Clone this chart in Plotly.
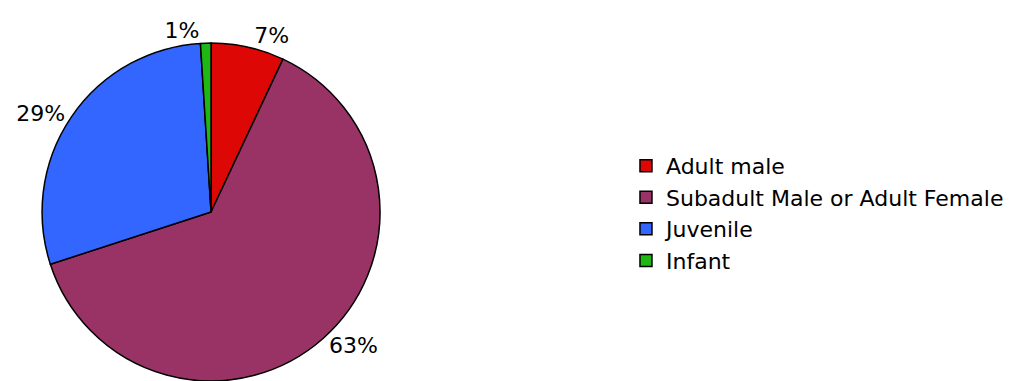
import plotly.graph_objects as go

# Age/sex classes and their share of the group (percent)
categories = ["Adult male", "Subadult Male or Adult Female", "Juvenile", "Infant"]
shares = [7, 63, 29, 1]
colors = ["#DD0806", "#993366", "#3366FF", "#1FB714"]

FONT = "DejaVu Sans, Verdana, sans-serif"

fig = go.Figure(
    go.Pie(
        labels=categories,
        values=shares,
        sort=False,
        direction="clockwise",
        rotation=0,
        marker=dict(colors=colors, line=dict(color="black", width=1.5)),
        textinfo="percent",
        texttemplate="%{percent:.0%}",
        textposition="outside",
        textfont=dict(family=FONT, size=22, color="black"),
        domain=dict(x=[0.041, 0.372], y=[0.0, 0.887]),
        showlegend=True,
    )
)

fig.update_layout(
    width=1022,
    height=381,
    margin=dict(l=0, r=0, t=0, b=0, autoexpand=False),
    paper_bgcolor="white",
    plot_bgcolor="white",
    font=dict(family=FONT, size=22, color="black"),
    legend=dict(
        x=0.6125,
        y=0.44,
        xanchor="left",
        yanchor="middle",
        bgcolor="rgba(0,0,0,0)",
        font=dict(size=22),
        itemwidth=30,
    ),
)

fig.write_html("out.html")
